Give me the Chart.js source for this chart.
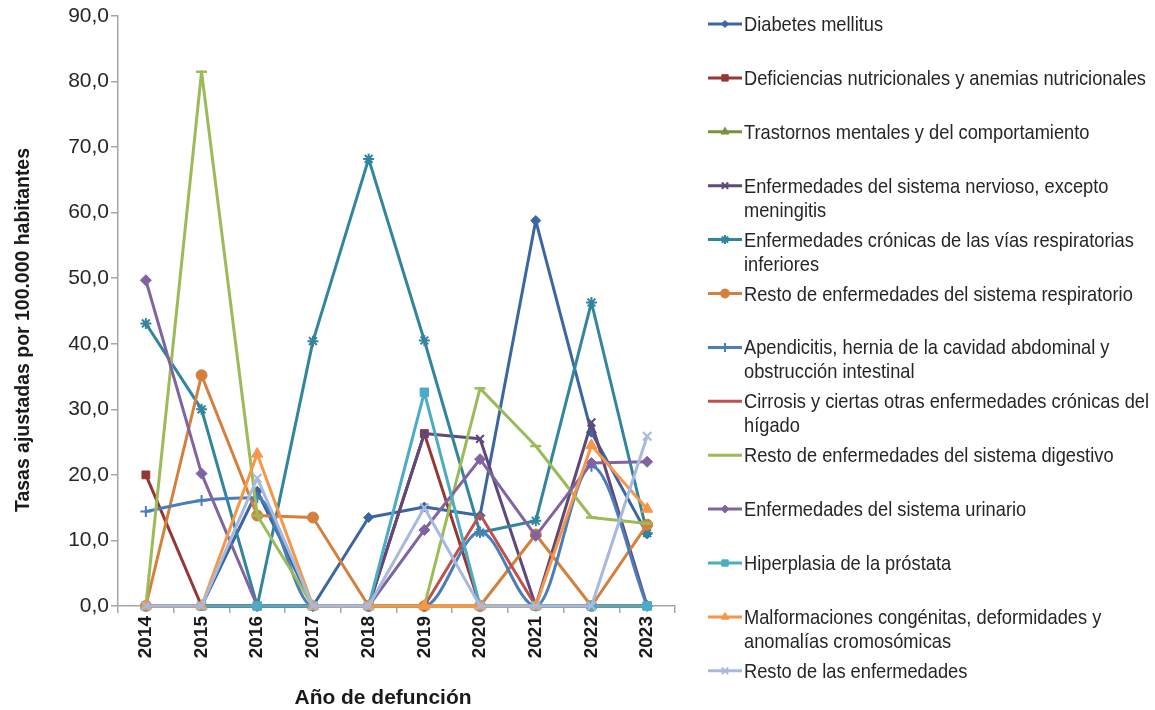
<!DOCTYPE html>
<html>
<head>
<meta charset="utf-8">
<script src="https://cdn.jsdelivr.net/npm/chart.js@4/dist/chart.umd.min.js"></script>
<style>
  html, body { margin: 0; padding: 0; background: #fff; }
  #wrap { position: relative; width: 1155px; height: 710px; overflow: hidden; font-family: "Liberation Sans", Arial, sans-serif; }
  #chart { position: absolute; left: 0; top: 0; }
  #swatches { position: absolute; left: 700px; top: 0; }
  .lg { position: absolute; left: 744px; white-space: nowrap; color: #262626; font-size: 21px; line-height: 24px; transform-origin: 0 0; }
  .ttl { position: absolute; white-space: nowrap; color: #1a1a1a; font-weight: bold; font-size: 21px; line-height: 24px; }
</style>
</head>
<body>
<div id="wrap">
  <canvas id="chart" width="1155" height="710" style="width:1155px;height:710px"></canvas>
  <canvas id="swatches" width="60" height="710" style="width:60px;height:710px"></canvas>
  <div id="ytitle" class="ttl">Tasas ajustadas por 100.000 habitantes</div>
  <div id="xtitle" class="ttl">Año de defunción</div>
</div>
<script>
// ---------- data ----------
const years = ['2014','2015','2016','2017','2018','2019','2020','2021','2022','2023'];
const yTickValues = [0,10,20,30,40,50,60,70,80,90];

const diabetes        = [0, 0, 17.5, 0, 13.5, 15.1, 13.8, 58.8, 26.5, 11.0];
const deficiencias    = [20.0, 0, 0, 0, 0, 26.3, 0, 0, 0, 0];
const trastornos      = [0, 0, 0, 0, 0, 0, 0, 0, 0, 0];
const nervioso        = [0, 0, 0, 0, 0, 26.3, 25.5, 0, 28.0, 0];
const cronicasResp    = [43.1, 30.0, 0, 40.4, 68.2, 40.5, 11.2, 13.0, 46.3, 11.1];
const restoResp       = [0, 35.2, 13.8, 13.5, 0, 0, 0, 10.9, 0, 12.4];
const apendicitis     = [14.4, 16.1, 16.5, 0, 0, 0, 11.3, 0, 21.3, 0];
const cirrosis        = [0, 0, 0, 0, 0, 0, 14.0, 0, 0, 0];
const restoDigestivo  = [0, 81.5, 13.8, 0, 0, 0, 33.2, 24.4, 13.5, 12.6];
const urinario        = [49.7, 20.2, 0, 0, 0, 11.6, 22.4, 10.7, 21.8, 22.0];
const hiperplasia     = [0, 0, 0, 0, 0, 32.6, 0, 0, 0, 0];
const malformaciones  = [0, 0, 23.2, 0, 0, 0, 0, 0, 24.5, 14.8];
const restoEnf        = [0, 0, 19.5, 0, 0, 15.0, 0, 0, 0, 25.9];

const seriesNames = [
  ['Diabetes mellitus'],
  ['Deficiencias nutricionales y anemias nutricionales'],
  ['Trastornos mentales y del comportamiento'],
  ['Enfermedades del sistema nervioso, excepto', 'meningitis'],
  ['Enfermedades crónicas de las vías respiratorias', 'inferiores'],
  ['Resto de enfermedades del sistema respiratorio'],
  ['Apendicitis, hernia de la cavidad abdominal y', 'obstrucción intestinal'],
  ['Cirrosis y ciertas otras enfermedades crónicas del', 'hígado'],
  ['Resto de enfermedades del sistema digestivo'],
  ['Enfermedades del sistema urinario'],
  ['Hiperplasia de la próstata'],
  ['Malformaciones congénitas, deformidades y', 'anomalías cromosómicas'],
  ['Resto de las enfermedades']
];
const seriesValues = [diabetes, deficiencias, trastornos, nervioso, cronicasResp, restoResp,
  apendicitis, cirrosis, restoDigestivo, urinario, hiperplasia, malformaciones, restoEnf];

// ---------- styles ----------
const colors = ['#3B66A2','#953735','#77933C','#5F497A','#31859C','#D4803C',
  '#4A7EBB','#C0504D','#9BBB59','#8064A2','#4BACC6','#F79646','#A7BADC'];
const markers = ['rectRot','rect','triangle','crossRot','star','circle',
  'cross','line','line','rectRot','rect','triangle','crossRot'];
const markerRadius = [5,5.5,5.5,5.5,5.5,5.5,5.5,0,5.5,5.5,6,6.5,6];
const markerBorder = [1,1,1,2,2,1,2,2,2.5,1,1,1,2];
const legendRadius = [3.5,4.5,4.5,4.5,4.5,4.5,4.5,0,0,4,4.5,4.5,4.5];

const FONT = '"Liberation Sans", Arial, sans-serif';
const N = seriesValues.length;

const datasets = seriesValues.map((vals, i) => ({
  label: seriesNames[i].join(' '),
  data: vals,
  borderColor: colors[i],
  backgroundColor: colors[i],
  pointBackgroundColor: colors[i],
  pointBorderColor: colors[i],
  borderWidth: 3,
  pointStyle: markers[i],
  pointRadius: markerRadius[i],
  pointBorderWidth: markerBorder[i],
  tension: i === 6 ? 0.3 : 0,
  cubicInterpolationMode: i === 6 ? 'monotone' : 'default',
  order: N - 1 - i,
  clip: false
}));

new Chart(document.getElementById('chart'), {
  type: 'line',
  data: { labels: years, datasets },
  options: {
    responsive: false,
    animation: false,
    maintainAspectRatio: false,
    layout: { padding: { left: 0, right: 480, top: 16, bottom: 0 } },
    plugins: { legend: { display: false }, tooltip: { enabled: false } },
    elements: { line: { borderCapStyle: 'round', borderJoinStyle: 'round' } },
    scales: {
      x: {
        offset: true,
        grid: { offset: true, drawOnChartArea: false, drawTicks: true, tickLength: 7, color: '#A6A6A6', lineWidth: 1.5 },
        border: { color: '#A6A6A6', width: 1.5 },
        ticks: { minRotation: 90, maxRotation: 90, autoSkip: false, color: '#1a1a1a', padding: 3,
                 font: { family: FONT, size: 19, weight: 'bold' } },
        afterFit: s => { s.height = 104; }
      },
      y: {
        min: 0, max: 90,
        afterBuildTicks: s => { s.ticks = yTickValues.map(v => ({ value: v })); },
        grid: { drawOnChartArea: false, drawTicks: true, tickLength: 7, color: '#A6A6A6', lineWidth: 1.5 },
        border: { color: '#A6A6A6', width: 1.5 },
        ticks: { color: '#262626', padding: 2, font: { family: FONT, size: 21 },
                 callback: v => v.toFixed(1).replace('.', ',') },
        afterFit: s => { s.width = 118; }
      }
    }
  }
});

// ---------- legend (HTML text + Chart.js point drawing) ----------
const wrap = document.getElementById('wrap');
const sw = document.getElementById('swatches');
const sctx = sw.getContext('2d');
const meas = document.createElement('canvas').getContext('2d');
meas.font = '21px ' + FONT;
const legendScale = 402 / meas.measureText(seriesNames[1][0]).width;
const firstY = 24, stepY = 53.9, lineH = 24;
seriesNames.forEach((lines, i) => {
  const cy = firstY + i * stepY;
  const d = document.createElement('div');
  d.className = 'lg';
  d.style.top = (cy - lineH / 2) + 'px';
  d.style.transform = 'scaleX(' + legendScale.toFixed(4) + ')';
  d.innerHTML = lines.join('<br>');
  wrap.appendChild(d);
  sctx.strokeStyle = colors[i];
  sctx.fillStyle = colors[i];
  sctx.lineWidth = 3;
  sctx.beginPath();
  sctx.moveTo(8, cy); sctx.lineTo(42, cy);
  sctx.stroke();
  if (legendRadius[i] > 0) {
    sctx.lineWidth = markerBorder[i];
    Chart.helpers.drawPoint(sctx, { pointStyle: markers[i], rotation: 0, radius: legendRadius[i], borderWidth: markerBorder[i] }, 25, cy);
  }
});

// ---------- axis titles ----------
function fitScale(text, targetW, size) {
  meas.font = 'bold ' + size + 'px ' + FONT;
  return targetW / meas.measureText(text).width;
}
const yt = document.getElementById('ytitle');
const ys = fitScale(yt.textContent, 364, 21);
yt.style.left = '22px';
yt.style.top = '330px';
yt.style.transformOrigin = '0 0';
yt.style.transform = 'rotate(-90deg) scaleX(' + ys.toFixed(4) + ') translate(-50%, -50%)';

const xt = document.getElementById('xtitle');
const xs = fitScale(xt.textContent, 177, 21);
xt.style.left = '383px';
xt.style.top = '697px';
xt.style.transformOrigin = '0 0';
xt.style.transform = 'scaleX(' + xs.toFixed(4) + ') translate(-50%, -50%)';
</script>
</body>
</html>
